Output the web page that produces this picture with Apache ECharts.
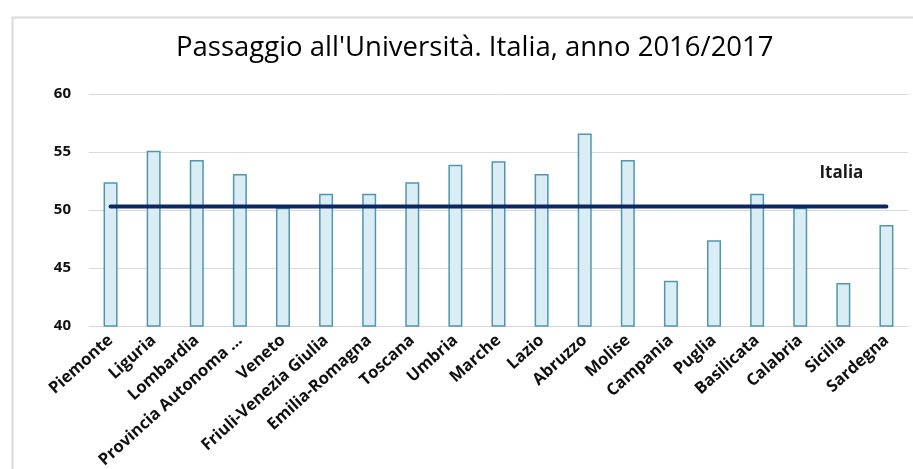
<!DOCTYPE html>
<html>
<head>
<meta charset="utf-8">
<script src="https://cdn.jsdelivr.net/npm/echarts@6/dist/echarts.min.js"></script>
<style>
html,body{margin:0;padding:0;background:#fff;}
#chart{width:913px;height:469px;}
</style>
</head>
<body>
<div id="chart"></div>
<script>
const titleText = "Passaggio all'Università. Italia, anno 2016/2017";
const regions = ["Piemonte","Liguria","Lombardia","Provincia Autonoma ...","Veneto","Friuli-Venezia Giulia","Emilia-Romagna","Toscana","Umbria","Marche","Lazio","Abruzzo","Molise","Campania","Puglia","Basilicata","Calabria","Sicilia","Sardegna"];
const regionValues = [52.4,55.1,54.3,53.1,50.2,51.4,51.4,52.4,53.9,54.2,53.1,56.6,54.3,43.9,47.4,51.4,50.2,43.7,48.7];
const italiaValue = 50.3;
const italiaName = "Italia";
const yTicks = [40,45,50,55,60];

const italiaLine = regions.map(() => italiaValue);

const chart = echarts.init(document.getElementById('chart'), null, { renderer: 'canvas' });
chart.setOption({
  animation: false,
  backgroundColor: '#ffffff',
  graphic: [{
    type: 'rect', left: 10, top: 15, shape: { width: 1000, height: 1000 },
    style: { fill: 'none', stroke: '#d9d9d9', lineWidth: 2 }, silent: true, z: -1
  }],
  title: {
    text: titleText, left: 171, top: 29,
    textStyle: { fontFamily: 'Open Sans', fontSize: 27.5, fontWeight: 500, color: '#000' }
  },
  grid: { left: 89, right: 5, top: 94, bottom: 143, containLabel: false, outerBoundsMode: 'none' },
  xAxis: {
    type: 'category', data: regions,
    axisLine: { show: false }, axisTick: { show: false },
    axisLabel: { interval: 0, rotate: 42, fontFamily: 'Open Sans', fontWeight: 'bold', fontSize: 16.5, color: '#111', margin: 12 }
  },
  yAxis: {
    type: 'value', min: yTicks[0], max: yTicks[yTicks.length - 1], interval: 5,
    axisLine: { show: false }, axisTick: { show: false },
    axisLabel: { fontFamily: 'Open Sans', fontWeight: 'bold', fontSize: 15, color: '#111', margin: 18 },
    splitLine: { lineStyle: { color: '#d9d9d9', width: 1 } }
  },
  series: [{
    type: 'bar', name: 'Regioni', data: regionValues, barWidth: 14,
    itemStyle: { color: '#daedf4', borderColor: '#4f97ad', borderWidth: 1.5 }
  }, {
    type: 'line', name: italiaName, data: italiaLine, symbol: 'none',
    lineStyle: { color: '#0c2862', width: 4, cap: 'round' }, z: 5,
    endLabel: { show: true, formatter: italiaName, offset: [-75, -33], fontFamily: 'Open Sans', fontWeight: 'bold', fontSize: 17, color: '#1a1a1a' }
  }]
});
</script>
</body>
</html>
